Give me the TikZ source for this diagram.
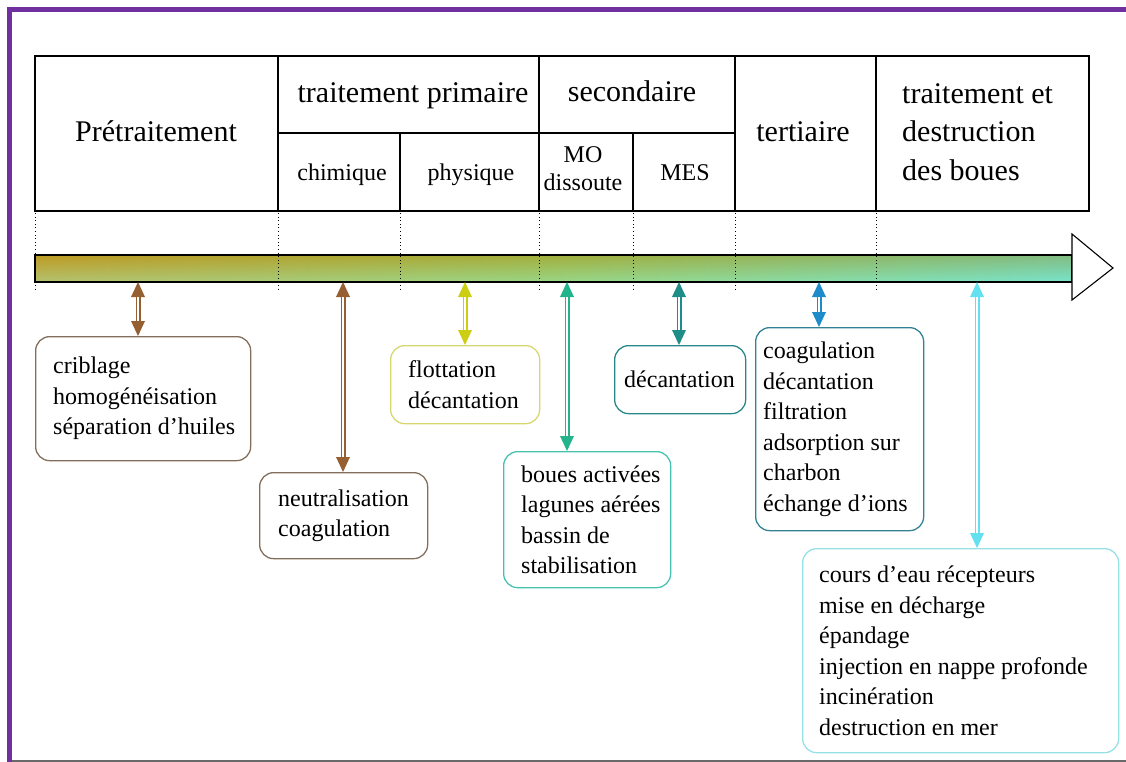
\documentclass[tikz,border=0pt]{standalone}
\usepackage{fontspec}
\setmainfont{Liberation Serif}
\usetikzlibrary{arrows.meta}

\definecolor{cadreviolet}{RGB}{112,48,160}
\definecolor{traitgris}{RGB}{105,105,105}
\definecolor{barreG}{RGB}{200,165,45}
\definecolor{barreM}{RGB}{155,198,85}
\definecolor{barreD}{RGB}{100,220,200}
\definecolor{barreH}{RGB}{175,140,25}
\definecolor{barreB}{RGB}{150,240,210}
\definecolor{brun}{RGB}{150,95,50}
\definecolor{brunbord}{RGB}{130,110,90}
\definecolor{jaune}{RGB}{205,205,20}
\definecolor{jaunebord}{RGB}{215,215,110}
\definecolor{vertd}{RGB}{35,180,140}
\definecolor{vertdbord}{RGB}{70,195,175}
\definecolor{sarcelle}{RGB}{30,140,135}
\definecolor{sarcellebord}{RGB}{40,135,135}
\definecolor{bleuf}{RGB}{30,140,200}
\definecolor{bleufbord}{RGB}{50,130,150}
\definecolor{cyanc}{RGB}{100,225,240}
\definecolor{cyancbord}{RGB}{150,225,230}

\begin{document}
\begin{tikzpicture}[x=1pt,y=-1pt,
  grand/.style={font=\fontsize{30}{38.5}\selectfont, inner sep=0pt},
  petit/.style={font=\fontsize{24}{28}\selectfont, inner sep=0pt},
  boite/.style={draw=#1, line width=1.3pt, rounded corners=14pt, anchor=north west, inner sep=0pt},
  liste/.style={font=\fontsize{24}{30.5}\selectfont, align=left, anchor=west, inner sep=0pt},
  lien/.style={draw=white, line width=2.2pt, shorten <=15pt, shorten >=15pt,
    preaction={draw=#1, line width=5pt, shorten <=0pt, shorten >=0pt, {Triangle[length=15pt,width=14pt,line width=0pt]}-{Triangle[length=15pt,width=14pt,line width=0pt]}}},
  pointille/.style={line width=1pt, dash pattern=on 1pt off 2.6pt}]

\useasboundingbox (0,0) rectangle (1126,762);

% cadre
\draw[cadreviolet, line width=5pt] (9.5,762) -- (9.5,9.5) -- (1126,9.5);
\draw[traitgris, line width=2pt] (12,761) -- (1126,761);

% tableau des etapes
\draw[line width=1.4pt] (35,56) rectangle (1089,211);
\draw[line width=1.4pt] (278,56) -- (278,211) (539,56) -- (539,211) (735,56) -- (735,211) (876,56) -- (876,211)
  (278,133) -- (735,133) (400,133) -- (400,211) (633,133) -- (633,211);

\node[grand, anchor=base] (pretr) at (156,142) {Prétraitement};
\node[grand, anchor=base] (prim) at (413,103) {traitement primaire};
\node[grand, anchor=base] (second) at (632,102) {secondaire};
\node[grand, anchor=base] (tert) at (803,142) {tertiaire};
\node[grand, anchor=base west, align=left] (boues) at (902,180) {traitement et\\destruction\\des boues};
\node[petit, anchor=base] (chim) at (342,180) {chimique};
\node[petit, anchor=base] (phys) at (471,180) {physique};
\node[petit, anchor=base, align=center] (mo) at (583,190) {MO\\dissoute};
\node[petit, anchor=base] (mes) at (685,180) {MES};

% barre du temps
\shade[left color=barreG, right color=barreD, middle color=barreM] (35,255) rectangle (1072,282);
\shade[top color=barreH, bottom color=barreB, opacity=0.4] (35,255) rectangle (1072,282);
\draw[line width=1.2pt] (35,255) rectangle (1072,282);
\filldraw[fill=white, line width=1.1pt] (1072,234) -- (1113,268) -- (1072,300) -- cycle;
\foreach \x in {35,278,400,539,633,735,876}
  \draw[pointille] (\x,213) -- (\x,289);
\foreach \n/\x in {1/138,2/343,3/465,4/567,5/679,6/819,7/977}
  \coordinate (b\n) at (\x,282);

% procedes
\node[boite=brunbord, minimum width=215pt, minimum height=124pt] (crib) at (35,336) {};
\node[liste] (cribtxt) at ([xshift=18pt]crib.west) {criblage\\homogénéisation\\séparation d’huiles};
\node[boite=brunbord, minimum width=168pt, minimum height=86pt] (neutr) at (259,472) {};
\node[liste] (neutrtxt) at ([xshift=19pt]neutr.west) {neutralisation\\coagulation};
\node[boite=jaunebord, minimum width=149pt, minimum height=78pt] (flott) at (390,345) {};
\node[liste] (flotttxt) at ([xshift=18pt]flott.west) {flottation\\décantation};
\node[boite=vertdbord, minimum width=167pt, minimum height=136pt] (activ) at (503,451) {};
\node[liste] (activtxt) at ([xshift=18pt]activ.west) {boues activées\\lagunes aérées\\bassin de\\stabilisation};
\node[boite=sarcellebord, minimum width=131pt, minimum height=68pt] (decant) at (614,345) {};
\node[liste] (decanttxt) at ([xshift=10pt]decant.west) {décantation};
\node[boite=bleufbord, minimum width=168pt, minimum height=203pt] (affin) at (755,327) {};
\node[liste] (affintxt) at ([xshift=8pt]affin.west) {coagulation\\décantation\\filtration\\adsorption sur\\charbon\\échange d’ions};
\node[boite=cyancbord, minimum width=316pt, minimum height=204pt] (rejet) at (802,548) {};
\node[liste] (rejettxt) at ([xshift=17pt]rejet.west) {cours d’eau récepteurs\\mise en décharge\\épandage\\injection en nappe profonde\\incinération\\destruction en mer};

% liens
\draw[lien=brun] (b1) -- (b1 |- crib.north);
\draw[lien=brun] (b2) -- (b2 |- neutr.north);
\draw[lien=jaune] (b3) -- (b3 |- flott.north);
\draw[lien=vertd] (b4) -- (b4 |- activ.north);
\draw[lien=sarcelle] (b5) -- (b5 |- decant.north);
\draw[lien=bleuf] (b6) -- (b6 |- affin.north);
\draw[lien=cyanc] (b7) -- (b7 |- rejet.north);
\end{tikzpicture}
\end{document}
